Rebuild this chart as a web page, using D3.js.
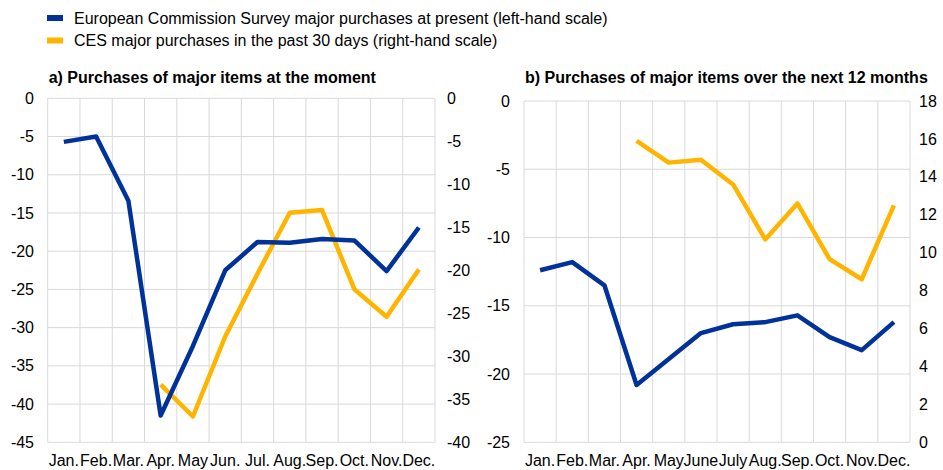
<!DOCTYPE html>
<meta charset="utf-8">
<script src="https://d3js.org/d3.v7.min.js"></script>
<style>
  body { margin: 0; background: #fff; }
  text { font-family: "Liberation Sans", Arial, sans-serif; fill: #000; }
</style>
<div id="chart"></div>
<script>
// month labels for each panel
var monthsA = ["Jan.", "Feb.", "Mar.", "Apr.", "May", "Jun.", "Jul.", "Aug.", "Sep.", "Oct.", "Nov.", "Dec."];
var monthsB = ["Jan.", "Feb.", "Mar.", "Apr.", "May", "June", "July", "Aug.", "Sep.", "Oct.", "Nov.", "Dec."];

// panel a) purchases at the moment
var ecA  = [-5.7, -5.0, -13.4, -41.5, -32.4, -22.5, -18.8, -18.9, -18.4, -18.6, -22.6, -16.9];
var cesA = [null, null, null, -33.3, -37.0, -27.7, -20.4, -13.3, -13.0, -22.2, -25.4, -19.9];

// panel b) purchases over the next 12 months
var ecB  = [-12.4, -11.8, -13.5, -20.8, -18.9, -17.0, -16.35, -16.2, -15.7, -17.3, -18.25, -16.2];
var cesB = [null, null, null, 15.9, 14.75, 14.9, 13.6, 10.7, 12.6, 9.66, 8.6, 12.5];

var ticksLeftA = [0, -5, -10, -15, -20, -25, -30, -35, -40, -45];
var ticksRightA = [0, -5, -10, -15, -20, -25, -30, -35, -40];
var ticksLeftB = [0, -5, -10, -15, -20, -25];
var ticksRightB = [0, 2, 4, 6, 8, 10, 12, 14, 16, 18];

var legendItems = [
  {label: "European Commission Survey major purchases at present (left-hand scale)", color: "#003299"},
  {label: "CES major purchases in the past 30 days (right-hand scale)", color: "#ffb400"}
];

var W = 943, H = 470;
var svg = d3.select("#chart").append("svg")
  .attr("width", W)
  .attr("height", H);

// legend
legendItems.forEach(function(d, i) {
  var y = 18 + i * 22.5;
  svg.append("rect")
    .attr("x", 47).attr("y", y - 3)
    .attr("width", 16).attr("height", 6)
    .attr("fill", d.color);
  svg.append("text")
    .attr("x", 74).attr("y", y + 5.5)
    .style("font-size", "16px")
    .text(d.label);
});

function drawPanel(p) {
  var g = svg.append("g");

  var x = d3.scaleBand().domain(p.months).range([p.left, p.right]);
  var yL = d3.scaleLinear().domain(p.leftDomain).range([p.bottom, p.top]);
  var yR = d3.scaleLinear().domain(p.rightDomain).range([p.bottom, p.top]);

  // title
  g.append("text")
    .attr("x", p.left + 1).attr("y", 83)
    .style("font-size", "16px")
    .style("font-weight", "bold")
    .text(p.title);

  // horizontal gridlines
  g.selectAll(".hgrid")
    .data(p.ticksLeft)
    .enter().append("line")
    .attr("x1", p.left).attr("x2", p.right)
    .attr("y1", function(d) { return yL(d); })
    .attr("y2", function(d) { return yL(d); })
    .attr("stroke", "#d9d9d9").attr("stroke-width", 1);

  // vertical gridlines at band edges
  var edges = p.months.map(function(m) { return x(m); }).concat([p.right]);
  g.selectAll(".vgrid")
    .data(edges)
    .enter().append("line")
    .attr("x1", function(d) { return d; }).attr("x2", function(d) { return d; })
    .attr("y1", p.top).attr("y2", p.bottom)
    .attr("stroke", "#d9d9d9").attr("stroke-width", 1);

  // left axis labels
  g.selectAll(".ltick")
    .data(p.ticksLeft)
    .enter().append("text")
    .attr("x", p.leftLabelX)
    .attr("y", function(d) { return yL(d); })
    .attr("dy", "0.35em")
    .attr("text-anchor", "end")
    .style("font-size", "16px")
    .text(function(d) { return d; });

  // right axis labels
  g.selectAll(".rtick")
    .data(p.ticksRight)
    .enter().append("text")
    .attr("x", p.rightLabelX)
    .attr("y", function(d) { return yR(d); })
    .attr("dy", "0.35em")
    .attr("text-anchor", "start")
    .style("font-size", "16px")
    .text(function(d) { return d; });

  // month labels
  g.selectAll(".month")
    .data(p.months)
    .enter().append("text")
    .attr("x", function(d) { return x(d) + x.bandwidth() / 2; })
    .attr("y", 466)
    .attr("text-anchor", "middle")
    .style("font-size", "16px")
    .text(function(d) { return d; });

  var cx = function(d, i) { return x(p.months[i]) + x.bandwidth() / 2; };

  var lineL = d3.line()
    .defined(function(d) { return d != null; })
    .x(cx).y(function(d) { return yL(d); });
  var lineR = d3.line()
    .defined(function(d) { return d != null; })
    .x(cx).y(function(d) { return yR(d); });

  g.append("path")
    .datum(p.cesValues)
    .attr("d", lineR)
    .attr("fill", "none")
    .attr("stroke", "#ffb400")
    .attr("stroke-width", 4.5)
    .attr("stroke-linejoin", "round");

  g.append("path")
    .datum(p.ecValues)
    .attr("d", lineL)
    .attr("fill", "none")
    .attr("stroke", "#003299")
    .attr("stroke-width", 4.5)
    .attr("stroke-linejoin", "round");
}

drawPanel({
  title: "a) Purchases of major items at the moment",
  months: monthsA,
  left: 47.7, right: 435, top: 98.3, bottom: 442.3,
  leftDomain: [-45, 0], rightDomain: [-40, 0],
  ticksLeft: ticksLeftA, ticksRight: ticksRightA,
  leftLabelX: 34, rightLabelX: 447,
  ecValues: ecA, cesValues: cesA
});

drawPanel({
  title: "b) Purchases of major items over the next 12 months",
  months: monthsB,
  left: 524, right: 910, top: 101, bottom: 442.3,
  leftDomain: [-25, 0], rightDomain: [0, 18],
  ticksLeft: ticksLeftB, ticksRight: ticksRightB,
  leftLabelX: 510, rightLabelX: 919,
  ecValues: ecB, cesValues: cesB
});
</script>
